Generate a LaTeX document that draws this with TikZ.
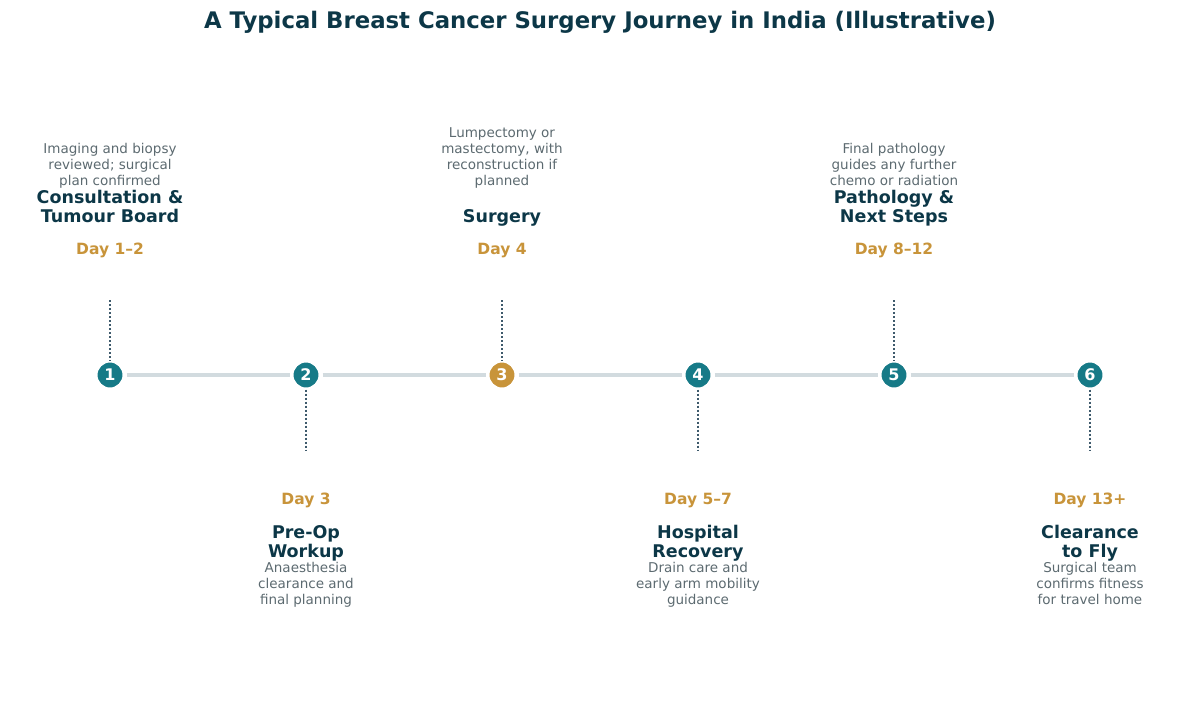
\documentclass[tikz,border=0pt]{standalone}
\usepackage{fontspec}
\setmainfont{DejaVu Sans}
\definecolor{navy}{HTML}{0C3747}
\definecolor{tealdot}{HTML}{167A87}
\definecolor{golddot}{HTML}{C8943A}
\definecolor{greytext}{HTML}{5C6A70}
\definecolor{trackgrey}{HTML}{D2DBDF}
\definecolor{slate}{HTML}{3E5A6C}

\begin{document}
\begin{tikzpicture}[x=1pt, y=-1pt,
    stepdot/.style={circle, fill=tealdot, draw=white, line width=2pt, minimum size=27pt, inner sep=0pt,
      text=white, font=\fontsize{16}{19}\selectfont\bfseries},
    track/.style={draw=trackgrey, line width=4pt, shorten >=2pt, shorten <=2pt},
    stem/.style={draw=slate, line width=1.5pt, dash pattern=on 2pt off 2pt},
    steptitle/.style={align=center, inner sep=0pt, text=navy,
      font=\fontsize{17.5}{19}\selectfont\bfseries, execute at begin node=\strut, execute at end node=\strut},
    stepday/.style={anchor=base, inner sep=0pt, text=golddot, font=\fontsize{15.5}{18}\selectfont\bfseries},
    stepnote/.style={align=center, inner sep=0pt, text=greytext,
      font=\fontsize{13.5}{16}\selectfont, execute at begin node=\strut, execute at end node=\strut}]
    \useasboundingbox (0,0) rectangle (1200,716);

    \node[text=navy, font=\fontsize{22.8}{27}\selectfont\bfseries] (title) at (600,22)
      {A Typical Breast Cancer Surgery Journey in India (Illustrative)};

    \node[stepdot] (d1) at (110,375) {1};
    \node[stepdot] (d2) at (306,375) {2};
    \node[stepdot, fill=golddot] (d3) at (502,375) {3};
    \node[stepdot] (d4) at (698,375) {4};
    \node[stepdot] (d5) at (894,375) {5};
    \node[stepdot] (d6) at (1090,375) {6};

    \draw[track] (d1) -- (d2);
    \draw[track] (d2) -- (d3);
    \draw[track] (d3) -- (d4);
    \draw[track] (d4) -- (d5);
    \draw[track] (d5) -- (d6);

    \coordinate (u1) at (110,300);
    \coordinate (u3) at (502,300);
    \coordinate (u5) at (894,300);
    \coordinate (l2) at (306,450);
    \coordinate (l4) at (698,450);
    \coordinate (l6) at (1090,450);
    \draw[stem] (u1) -- (d1);
    \draw[stem] (u3) -- (d3);
    \draw[stem] (u5) -- (d5);
    \draw[stem] (d2) -- (l2);
    \draw[stem] (d4) -- (l4);
    \draw[stem] (d6) -- (l6);

    \node[stepday] (day1) at (110,254.6) {Day 1–2};
    \node[steptitle, anchor=south] (name1) at (110,228) {Consultation \&\\Tumour Board};
    \node[stepnote, anchor=south] (note1) at (110,190.7) {Imaging and biopsy\\reviewed; surgical\\plan confirmed};

    \node[stepday] (day3) at (502,254.6) {Day 4};
    \node[steptitle, anchor=south] (name3) at (502,228) {Surgery};
    \node[stepnote, anchor=south] (note3) at (502,190.7) {Lumpectomy or\\mastectomy, with\\reconstruction if\\planned};

    \node[stepday] (day5) at (894,254.6) {Day 8–12};
    \node[steptitle, anchor=south] (name5) at (894,228) {Pathology \&\\Next Steps};
    \node[stepnote, anchor=south] (note5) at (894,190.7) {Final pathology\\guides any further\\chemo or radiation};

    \node[stepday] (day2) at (306,504.6) {Day 3};
    \node[steptitle, anchor=north] (name2) at (306,525) {Pre-Op\\Workup};
    \node[stepnote, anchor=north] (note2) at (306,561.7) {Anaesthesia\\clearance and\\final planning};

    \node[stepday] (day4) at (698,504.6) {Day 5–7};
    \node[steptitle, anchor=north] (name4) at (698,525) {Hospital\\Recovery};
    \node[stepnote, anchor=north] (note4) at (698,561.7) {Drain care and\\early arm mobility\\guidance};

    \node[stepday] (day6) at (1090,504.6) {Day 13+};
    \node[steptitle, anchor=north] (name6) at (1090,525) {Clearance\\to Fly};
    \node[stepnote, anchor=north] (note6) at (1090,561.7) {Surgical team\\confirms fitness\\for travel home};
  \end{tikzpicture}
\end{document}
